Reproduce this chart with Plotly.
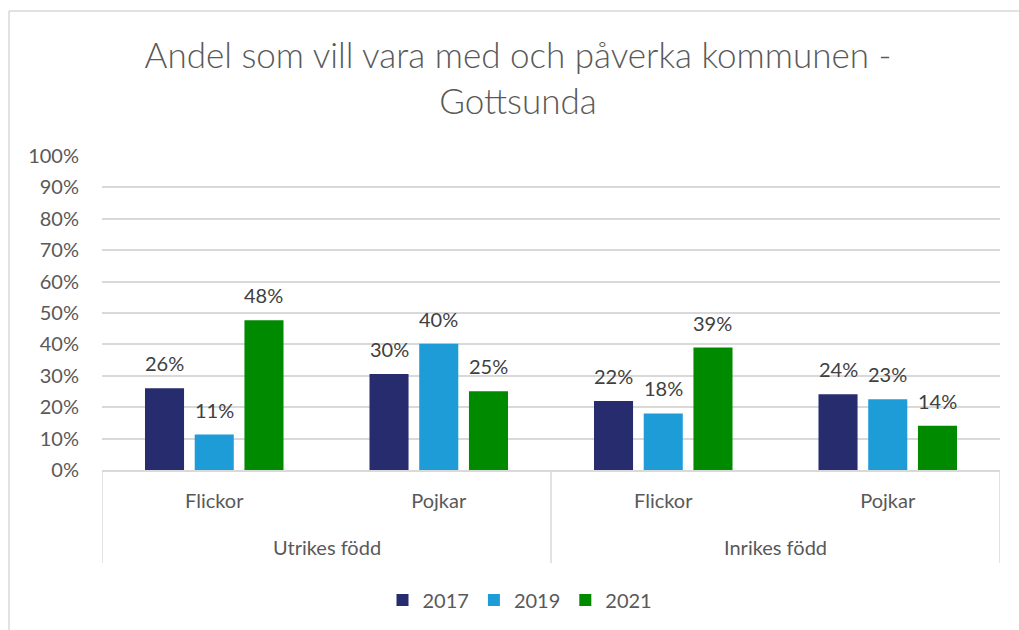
import plotly.graph_objects as go

# ---- data ----
outer_groups = ["Utrikes född", "Inrikes född"]
inner_labels = ["Flickor", "Pojkar", "Flickor", "Pojkar"]
years = ["2017", "2019", "2021"]
v2017 = [0.26, 0.306, 0.22, 0.241]
v2019 = [0.113, 0.402, 0.18, 0.225]
v2021 = [0.477, 0.251, 0.39, 0.141]
label2017 = ["26%", "30%", "22%", "24%"]
label2019 = ["11%", "40%", "18%", "23%"]
label2021 = ["48%", "25%", "39%", "14%"]
colors = ["#262C6E", "#1E9CD8", "#008A00"]

series = [v2017, v2019, v2021]
labels = [label2017, label2019, label2021]

W, H = 1019, 630
L, R, T, B = 102, 1000, 156, 470  # plot area in px

def px_x(px):
    return (px - L) / (R - L)

def px_y(py):
    return (B - py) / (B - T)

FONT = "Lato"
GRAY = "#595959"
LINE = "#D9D9D9"

xs = list(range(len(inner_labels)))
bargap = 0.3355
bargroupgap = 0.2145
slot = (1 - bargap) / len(years)

fig = go.Figure()
for j, (yr, vals, col) in enumerate(zip(years, series, colors)):
    fig.add_trace(go.Bar(x=xs, y=vals, name=yr, marker=dict(color=col, line=dict(width=0)),
                         hoverinfo="skip"))

annotations = []
for j, (vals, labs) in enumerate(zip(series, labels)):
    for i, (v, t) in enumerate(zip(vals, labs)):
        annotations.append(dict(x=i + (j - 1) * slot, y=v, xref="x", yref="y", text=t,
                                showarrow=False, yanchor="middle", yshift=25,
                                font=dict(family=FONT, size=20, color="#404040")))
# outer group labels
for g, name in enumerate(outer_groups):
    annotations.append(dict(x=2 * g + 0.5, y=px_y(547), xref="x", yref="paper", text=name,
                            showarrow=False, yanchor="middle",
                            font=dict(family=FONT, size=20, color=GRAY)))

shapes = []
# category axis dividers
for xv in [-0.5, 1.5, 3.5]:
    shapes.append(dict(type="line", xref="x", yref="paper", x0=xv, x1=xv,
                       y0=0, y1=px_y(563), line=dict(color=LINE, width=1.5)))
# outer chart frame
shapes.append(dict(type="line", xref="paper", yref="paper", x0=px_x(9), x1=px_x(W + 5),
                   y0=px_y(11), y1=px_y(11), line=dict(color=LINE, width=1.5)))
shapes.append(dict(type="line", xref="paper", yref="paper", x0=px_x(9), x1=px_x(9),
                   y0=px_y(11), y1=px_y(H + 5), line=dict(color=LINE, width=1.5)))

fig.update_layout(
    width=W, height=H,
    margin=dict(l=L, r=W - R, t=T, b=H - B, autoexpand=False),
    paper_bgcolor="white", plot_bgcolor="white",
    barmode="group", bargap=bargap, bargroupgap=bargroupgap,
    title=dict(text="Andel som vill vara med och påverka kommunen -<br>Gottsunda",
               x=518 / W, xanchor="center", xref="container",
               y=1 - 68 / H, yanchor="top", yref="container",
               font=dict(family=FONT, size=35, color=GRAY, weight=300)),
    xaxis=dict(range=[-0.5, 3.5], tickvals=xs, ticktext=inner_labels,
               showgrid=False, zeroline=False, showline=True, linecolor=LINE, linewidth=1.5,
               ticks="", ticklabelstandoff=12,
               tickfont=dict(family=FONT, size=20, color=GRAY), fixedrange=True),
    yaxis=dict(range=[0, 1], dtick=0.1, tickformat=".0%", showgrid=True,
               gridcolor=LINE, gridwidth=1.5, zeroline=False, showline=False,
               ticks="", ticklabelstandoff=22,
               tickfont=dict(family=FONT, size=20, color=GRAY), fixedrange=True),
    legend=dict(orientation="h", x=px_x(520), xanchor="center", y=px_y(600), yanchor="middle",
                font=dict(family=FONT, size=20, color=GRAY), traceorder="normal",
                itemclick=False, itemdoubleclick=False),
    annotations=annotations,
    shapes=shapes,
    showlegend=True,
)

fig.write_html("out.html", config={"displayModeBar": False},
               post_script="document.body.style.margin='0';")
